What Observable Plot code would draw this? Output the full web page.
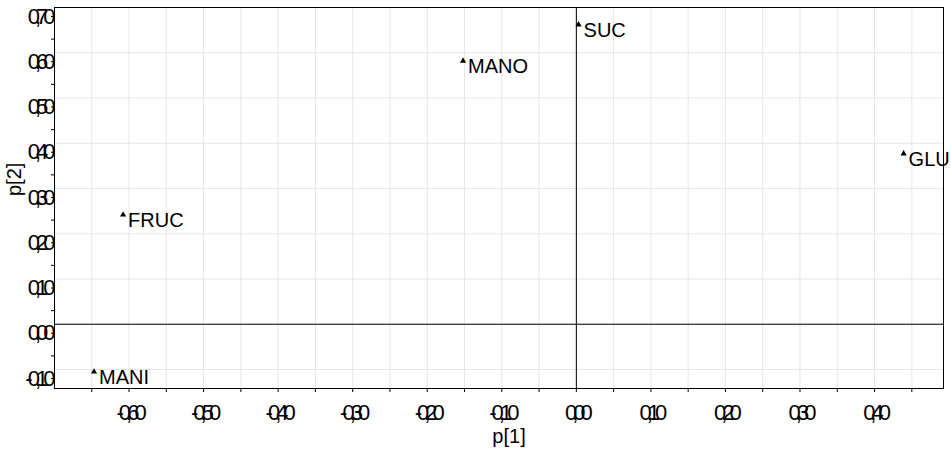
<!DOCTYPE html>
<html><head><meta charset="utf-8">
<script src="https://cdn.jsdelivr.net/npm/d3@7"></script>
<script src="https://cdn.jsdelivr.net/npm/@observablehq/plot@0.6"></script>
<style>
body{margin:0;background:#fff}
g[aria-label="x-axis tick label"] text, g[aria-label="y-axis tick label"] text {letter-spacing:-5px}
</style>
</head><body><div id="chart"></div>
<script>
const names = ["SUC", "MANO", "GLU", "FRUC", "MANI"];
const p1 = [0.003, -0.152, 0.439, -0.608, -0.647];
const p2 = [0.662, 0.582, 0.377, 0.242, -0.105];

const xLabelValues = [-0.6, -0.5, -0.4, -0.3, -0.2, -0.1, 0, 0.1, 0.2, 0.3, 0.4];
const xLabelTexts = ["-0,60", "-0,50", "-0,40", "-0,30", "-0,20", "-0,10", "0,00", "0,10", "0,20", "0,30", "0,40"];
const xMinor = [-0.65, -0.55, -0.45, -0.35, -0.25, -0.15, -0.05, 0.05, 0.15, 0.25, 0.35, 0.45];
const yLabelValues = [-0.1, 0, 0.1, 0.2, 0.3, 0.4, 0.5, 0.6, 0.7];
const yLabelTexts = ["-0,10", "0,00", "0,10", "0,20", "0,30", "0,40", "0,50", "0,60", "0,70"];
const yMinor = [-0.05, 0.05, 0.15, 0.25, 0.35, 0.45, 0.55, 0.65];
const xTitle = "p[1]";
const yTitle = "p[2]";

const data = names.map((n, i) => ({name: n, p1: p1[i], p2: p2[i]}));
const xAll = [...xLabelValues, ...xMinor].sort((a, b) => a - b);
const yAll = [...yLabelValues, ...yMinor].sort((a, b) => a - b);
const xFmt = new Map(xLabelValues.map((v, i) => [v, xLabelTexts[i]]));
const yFmt = new Map(yLabelValues.map((v, i) => [v, yLabelTexts[i]]));
const grid = "#e6e6e6";

const chart = Plot.plot({
  width: 951, height: 450,
  marginLeft: 54, marginRight: 8, marginTop: 7, marginBottom: 62,
  style: {fontFamily: "'Liberation Sans', Arial, sans-serif", fontSize: "20px", background: "white", color: "black"},
  x: {domain: [-0.70, 0.4925]},
  y: {domain: [-0.142, 0.70]},
  marks: [
    Plot.gridX(xAll, {stroke: grid, strokeOpacity: 1}),
    Plot.gridY(yLabelValues, {stroke: grid, strokeOpacity: 1}),
    Plot.ruleX([0], {stroke: "black"}),
    Plot.ruleY([0], {stroke: "black"}),
    Plot.axisX(xAll, {tickSize: 4, tickPadding: 12, dx: 0, tickFormat: d => xFmt.get(d) ?? "", label: null, fontSize: 22}),
    Plot.axisY(yAll, {tickSize: 3, tickPadding: 1, dy: 9, tickFormat: d => yFmt.get(d) ?? "", label: null, fontSize: 22}),
    Plot.frame({stroke: "black"}),
    Plot.dot(data, {x: "p1", y: "p2", symbol: "triangle", r: 2.3, fill: "black", stroke: null}),
    Plot.text(data, {x: "p1", y: "p2", text: "name", textAnchor: "start", lineAnchor: "top", dx: 5, dy: -2, fill: "black", fontSize: 20}),
    Plot.text([xTitle], {text: d => d, frameAnchor: "bottom", lineAnchor: "middle", dy: 48, dx: 10, fill: "black", fontSize: 20}),
    Plot.text([yTitle], {text: d => d, frameAnchor: "left", lineAnchor: "middle", rotate: -90, dx: -40, dy: -2, fill: "black", fontSize: 20})
  ]
});
document.getElementById("chart").append(chart);
</script>
</body></html>
